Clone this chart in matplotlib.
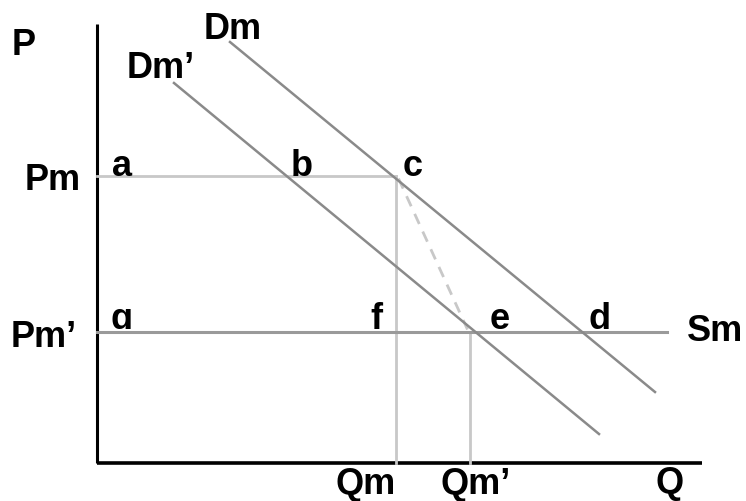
import matplotlib
matplotlib.use('Agg')
import matplotlib.pyplot as plt
from matplotlib.transforms import Bbox

plt.rcParams['font.family'] = ['Liberation Sans', 'DejaVu Sans']

# 数据（单位：Q 和 P 的任意单位）
q_axis_end = 12.1
p_axis_end = 8.78
pm = 5.74        # 垄断价格
pm_new = 2.62    # 新价格
qm = 5.98
qm_new = 7.46
sm_end = 11.4
dm_q = [2.66, 11.16]
dm_p = [8.42, 1.42]
dm2_q = [1.54, 10.04]
dm2_p = [7.6, 0.58]

# 标签: (文字, x, 基线 y)
curve_labels = [('P', -1.46, 8.16), ('Dm', 2.72, 8.48), ("Dm\u2019", 1.28, 7.70),
                ('Pm', -0.88, 5.46), ("Pm\u2019", -1.06, 2.32), ('Sm', 12.36, 2.44),
                ('Qm', 5.38, -0.62), ("Qm\u2019", 7.58, -0.62), ('Q', 11.46, -0.60)]
point_labels = [('a', 0.5, pm), ('b', 4.1, pm), ('c', 6.32, pm),
                ('f', 5.58, pm_new + 0.06), ('e', 8.06, pm_new + 0.06), ('d', 10.06, pm_new + 0.06)]

fig = plt.figure(figsize=(7.46, 5.01), dpi=100)
ax = fig.add_axes([0, 0, 1, 1])
ax.set_xlim(-1.94, 12.98)
ax.set_ylim(-0.76, 9.26)
ax.axis('off')

fs = 26
light = '#c8c8c8'
mid = '#9a9a9a'
dark = '#8a8a8a'

# 坐标轴
ax.plot([0, 0], [0, p_axis_end], color='k', lw=2.2, solid_capstyle='butt')
ax.plot([0, q_axis_end], [0, 0], color='k', lw=2.6, solid_capstyle='butt')

# 价格线和数量线
ax.plot([0, qm], [pm, pm], color=light, lw=2)
ax.plot([qm, qm], [0, pm], color=light, lw=2)
ax.plot([qm_new, qm_new], [0, pm_new], color=light, lw=2)
ax.plot([0, sm_end], [pm_new, pm_new], color=mid, lw=2.2)
ax.plot([qm + 0.05, qm_new - 0.05], [pm - 0.05, pm_new + 0.05], color=light, lw=2, ls=(0, (4, 3)))

# 需求曲线
ax.plot(dm_q, dm_p, color=dark, lw=1.8)
ax.plot(dm2_q, dm2_p, color=dark, lw=1.8)

kw = dict(fontsize=fs, fontweight='bold', color='k', ha='center', va='baseline')
for t, x, y in curve_labels:
    ax.text(x, y, t, **kw)
for t, x, y in point_labels:
    ax.text(x, y, t, **kw)

# 被线遮挡的 g
g = ax.text(0.5, pm_new + 0.06, 'g', **kw)
y_clip = ax.transData.transform((0, pm_new + 0.06))[1]
g.set_clip_box(Bbox([[0, y_clip], [746, 501]]))
g.set_clip_on(True)

fig.savefig('out.png', dpi=100)
